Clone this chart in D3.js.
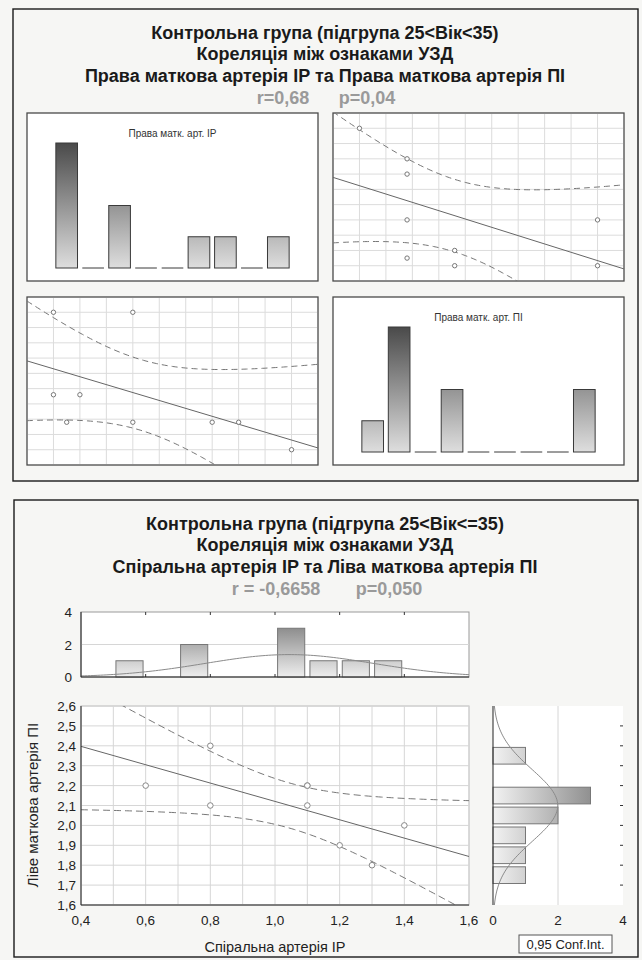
<!DOCTYPE html>
<html><head><meta charset="utf-8">
<script src="https://cdn.jsdelivr.net/npm/d3@7/dist/d3.min.js"></script>
<style>
body{margin:0;background:#f6f6f4}
text{font-family:"Liberation Sans",Arial,sans-serif}
</style>
</head><body>
<svg id="c" width="642" height="960"></svg>
<script>
// ---------- DATA ----------
// Top panel (matrix plot, values in plot grid units)
const topTitles = ["Контрольна група (підгрупа 25<Вік<35)", "Кореляція між ознаками УЗД", "Права маткова артерія IP та Права маткова артерія ПІ"];
const topStats = ["r=0,68", "p=0,04"];
const ipTop = [0, 3, 0, 1, 0.5, 3, 6, 7, 9];
const piTop = [9, 9, 3.6, 3.6, 1.8, 1.8, 1.8, 1.8, 0];
const topBinStart = [0, 1, 2, 3, 4, 5, 6, 7, 8];
const ipTopCounts = [4, 0, 2, 0, 0, 1, 1, 0, 1];
const piTopCounts = [1, 4, 0, 2, 0, 0, 0, 0, 2];
const topGrid = [0, 1, 2, 3, 4, 5, 6, 7, 8, 9];
const histTitleIP = "Права матк. арт. IP";
const histTitlePI = "Права матк. арт. ПІ";

// Bottom panel
const botTitles = ["Контрольна група (підгрупа 25<Вік<=35)", "Кореляція між ознаками УЗД", "Спіральна артерія IP та Ліва маткова артерія ПІ"];
const botStats = ["r = -0,6658", "p=0,050"];
const spiralIP = [0.6, 0.8, 0.8, 1.1, 1.1, 1.1, 1.2, 1.3, 1.4];
const leftPI   = [2.2, 2.4, 2.1, 2.2, 2.2, 2.1, 1.9, 1.8, 2.0];
const ipBinStart = [0.5, 0.7, 1.0, 1.1, 1.2, 1.3];
const ipBinCount = [1, 2, 3, 1, 1, 1];
const piBinStart = [2.3, 2.1, 2.0, 1.9, 1.8, 1.7];
const piBinCount = [1, 3, 2, 1, 1, 1];
const binWidth = 0.1;
const xTicks = [0.4, 0.6, 0.8, 1.0, 1.2, 1.4, 1.6];
const xGrid = d3.range(4, 17).map(d => d / 10);
const yTicks = d3.range(16, 27).map(d => d / 10);
const countTicks = [0, 2, 4];
const xTitle = "Спіральна артерія IP";
const yTitle = "Ліве маткова артерія ПІ";
const legendText = "0,95 Conf.Int.";
const tCrit = 2.365; // t(0.975, df=7)

// ---------- HELPERS ----------
const svg = d3.select("#c");
const defs = svg.append("defs");
const fmt = v => d3.format(".1f")(v).replace(".", ",");

function fit(xs, ys) {
  const n = xs.length, mx = d3.mean(xs), my = d3.mean(ys);
  let sxx = 0, sxy = 0, syy = 0;
  xs.forEach((x, i) => { sxx += (x - mx) ** 2; sxy += (x - mx) * (ys[i] - my); syy += (ys[i] - my) ** 2; });
  const b = sxy / sxx, a = my - b * mx;
  const s = Math.sqrt((syy - sxy * sxy / sxx) / (n - 2));
  return {
    y: x => a + b * x,
    hw: x => tCrit * s * Math.sqrt(1 / n + (x - mx) ** 2 / sxx)
  };
}
function normalCurve(vals, bw) {
  const m = d3.mean(vals), sd = d3.deviation(vals), n = vals.length;
  return x => n * bw * Math.exp(-0.5 * ((x - m) / sd) ** 2) / (sd * Math.sqrt(2 * Math.PI));
}
function grad(id, x1, y1, x2, y2, c1, c2) {
  const g = defs.append("linearGradient").attr("id", id).attr("gradientUnits", "userSpaceOnUse")
    .attr("x1", x1).attr("y1", y1).attr("x2", x2).attr("y2", y2);
  g.append("stop").attr("offset", 0).attr("stop-color", c1);
  g.append("stop").attr("offset", 1).attr("stop-color", c2);
}
let clipN = 0;
function clip(x, y, w, h) {
  const id = "cl" + (clipN++);
  defs.append("clipPath").attr("id", id).append("rect").attr("x", x).attr("y", y).attr("width", w).attr("height", h);
  return "url(#" + id + ")";
}

// ---------- PANELS ----------
svg.append("rect").attr("x", 13).attr("y", 9).attr("width", 625).attr("height", 472)
  .attr("fill", "#f6f6f4").attr("stroke", "#1a1a1a").attr("stroke-width", 1.4);
svg.append("rect").attr("x", 14).attr("y", 500).attr("width", 624).attr("height", 457)
  .attr("fill", "#f6f6f4").attr("stroke", "#1a1a1a").attr("stroke-width", 1.4);

function titles(lines, stats, y0, statX) {
  lines.forEach((t, i) => {
    svg.append("text").attr("x", 325).attr("y", y0 + i * 21.6).attr("text-anchor", "middle")
      .attr("font-size", 18).attr("font-weight", "bold").attr("fill", "#1a1a1a").text(t);
  });
  stats.forEach((t, i) => {
    svg.append("text").attr("x", statX[i]).attr("y", y0 + 3 * 21.8).attr("text-anchor", "middle")
      .attr("font-size", 18).attr("font-weight", "bold").attr("fill", "#9a9a9a").text(t);
  });
}
titles(topTitles, topStats, 38.5, [283, 367]);
titles(botTitles, botStats, 529.5, [276, 389]);

// ---------- TOP MATRIX ----------
const cells = {
  TL: {x0: 27, x1: 318, y0: 113, y1: 281},
  TR: {x0: 333, x1: 624, y0: 113, y1: 281},
  BL: {x0: 27, x1: 318, y0: 297, y1: 465},
  BR: {x0: 333, x1: 624, y0: 297, y1: 465}
};
Object.values(cells).forEach(c => {
  svg.append("rect").attr("x", c.x0).attr("y", c.y0).attr("width", c.x1 - c.x0).attr("height", c.y1 - c.y0)
    .attr("fill", "#ffffff").attr("stroke", "#4a4a4a").attr("stroke-width", 1.3);
});

function histCell(c, counts, title, gid) {
  const x = d3.scaleLinear([-1, 10], [c.x0, c.x1]);
  const y = d3.scaleLinear([0, 4], [c.y1 - 13, c.y0 + 30]);
  grad(gid, 0, y(4), 0, y(0), "#4a4a4a", "#dedede");
  const g = svg.append("g");
  g.append("text").attr("x", (c.x0 + c.x1) / 2).attr("y", c.y0 + 24).attr("text-anchor", "middle")
    .attr("font-size", 10).attr("fill", "#333").text(title);
  topBinStart.forEach((b, i) => {
    const xa = x(b) + 2.4, xb = x(b + 1) - 2.4;
    if (counts[i] > 0) {
      g.append("rect").attr("x", xa).attr("y", y(counts[i])).attr("width", xb - xa)
        .attr("height", y(0) - y(counts[i])).attr("fill", "url(#" + gid + ")")
        .attr("stroke", "#3a3a3a").attr("stroke-width", 1);
    } else {
      g.append("line").attr("x1", xa).attr("x2", xb).attr("y1", y(0)).attr("y2", y(0))
        .attr("stroke", "#3a3a3a").attr("stroke-width", 1);
    }
  });
}
histCell(cells.TL, ipTopCounts, histTitleIP, "gTL");
histCell(cells.BR, piTopCounts, histTitlePI, "gBR");

function scatterCell(c, xs, ys) {
  const x = d3.scaleLinear([-1, 10], [c.x0, c.x1]);
  const y = d3.scaleLinear([-1, 10], [c.y1, c.y0]);
  const g = svg.append("g");
  topGrid.forEach(v => {
    g.append("line").attr("x1", x(v)).attr("x2", x(v)).attr("y1", c.y0 + 1).attr("y2", c.y1 - 1)
      .attr("stroke", "#dcdcdc").attr("stroke-width", 1);
    g.append("line").attr("y1", y(v)).attr("y2", y(v)).attr("x1", c.x0 + 1).attr("x2", c.x1 - 1)
      .attr("stroke", "#dcdcdc").attr("stroke-width", 1);
  });
  const f = fit(xs, ys);
  const xsS = d3.range(-1, 10.01, 0.1);
  const cp = clip(c.x0, c.y0, c.x1 - c.x0, c.y1 - c.y0);
  const gl = g.append("g").attr("clip-path", cp);
  gl.append("path").attr("d", d3.line().x(d => x(d)).y(d => y(f.y(d)))([-1, 10]))
    .attr("fill", "none").attr("stroke", "#666").attr("stroke-width", 1);
  [1, -1].forEach(sg => {
    gl.append("path").attr("d", d3.line().x(d => x(d)).y(d => y(f.y(d) + sg * f.hw(d)))(xsS))
      .attr("fill", "none").attr("stroke", "#777").attr("stroke-width", 1).attr("stroke-dasharray", "6,4");
  });
  xs.forEach((v, i) => {
    g.append("circle").attr("cx", x(v)).attr("cy", y(ys[i])).attr("r", 2.2)
      .attr("fill", "#fff").attr("stroke", "#777").attr("stroke-width", 1);
  });
}
scatterCell(cells.TR, piTop, ipTop);
scatterCell(cells.BL, ipTop, piTop);

// ---------- BOTTOM PANEL ----------
const xS = d3.scaleLinear([0.4, 1.6], [81, 469]);
const yS = d3.scaleLinear([1.6, 2.6], [905, 706]);
const yH = d3.scaleLinear([0, 4], [677, 612]);
const xH = d3.scaleLinear([0, 4], [493, 623]);

// top histogram
{
  const g = svg.append("g");
  g.append("rect").attr("x", xS(0.4)).attr("y", yH(4)).attr("width", xS(1.6) - xS(0.4)).attr("height", yH(0) - yH(4))
    .attr("fill", "#fff").attr("stroke", "#999").attr("stroke-width", 1);
  g.append("line").attr("x1", xS(0.4)).attr("x2", xS(1.6)).attr("y1", yH(2)).attr("y2", yH(2))
    .attr("stroke", "#d6d6d6");
  grad("gTH", 0, yH(4), 0, yH(0), "#6e6e6e", "#eeeeee");
  ipBinStart.forEach((b, i) => {
    const xa = xS(b) + 2.6, xb = xS(b + binWidth) - 2.6;
    g.append("rect").attr("x", xa).attr("y", yH(ipBinCount[i])).attr("width", xb - xa)
      .attr("height", yH(0) - yH(ipBinCount[i])).attr("fill", "url(#gTH)").attr("stroke", "#777").attr("stroke-width", 1);
  });
  const nc = normalCurve(spiralIP, binWidth);
  g.append("path").attr("d", d3.line().x(d => xS(d)).y(d => yH(nc(d)))(d3.range(0.4, 1.601, 0.01)))
    .attr("fill", "none").attr("stroke", "#8a8a8a").attr("stroke-width", 1);
  xTicks.slice(1, -1).forEach(v => {
    g.append("line").attr("x1", xS(v)).attr("x2", xS(v)).attr("y1", yH(4)).attr("y2", yH(4) + 3).attr("stroke", "#333");
    g.append("line").attr("x1", xS(v)).attr("x2", xS(v)).attr("y1", yH(0)).attr("y2", yH(0) - 3).attr("stroke", "#333");
  });
  g.append("line").attr("x1", xS(0.4)).attr("x2", xS(0.4)).attr("y1", yH(4)).attr("y2", yH(0)).attr("stroke", "#222");
  g.append("line").attr("x1", xS(0.4)).attr("x2", xS(1.6)).attr("y1", yH(0)).attr("y2", yH(0)).attr("stroke", "#222");
  countTicks.forEach(v => {
    g.append("text").attr("x", 72).attr("y", yH(v) + 5).attr("text-anchor", "end")
      .attr("font-size", 13.5).attr("fill", "#222").text(v);
  });
}

// main scatter
{
  const g = svg.append("g");
  g.append("rect").attr("x", xS(0.4)).attr("y", yS(2.6)).attr("width", xS(1.6) - xS(0.4)).attr("height", yS(1.6) - yS(2.6))
    .attr("fill", "#fff").attr("stroke", "#bbb").attr("stroke-width", 1);
  xGrid.forEach(v => g.append("line").attr("x1", xS(v)).attr("x2", xS(v)).attr("y1", yS(2.6)).attr("y2", yS(1.6)).attr("stroke", "#d6d6d6"));
  yTicks.forEach(v => g.append("line").attr("y1", yS(v)).attr("y2", yS(v)).attr("x1", xS(0.4)).attr("x2", xS(1.6)).attr("stroke", "#d6d6d6"));
  const f = fit(spiralIP, leftPI);
  const cp = clip(xS(0.4), yS(2.6), xS(1.6) - xS(0.4), yS(1.6) - yS(2.6));
  const gl = g.append("g").attr("clip-path", cp);
  gl.append("path").attr("d", d3.line().x(d => xS(d)).y(d => yS(f.y(d)))([0.4, 1.6]))
    .attr("fill", "none").attr("stroke", "#666").attr("stroke-width", 1);
  const xsS = d3.range(0.4, 1.601, 0.01);
  [1, -1].forEach(sg => {
    gl.append("path").attr("d", d3.line().x(d => xS(d)).y(d => yS(f.y(d) + sg * f.hw(d)))(xsS))
      .attr("fill", "none").attr("stroke", "#777").attr("stroke-width", 1).attr("stroke-dasharray", "7,4");
  });
  spiralIP.forEach((v, i) => {
    g.append("circle").attr("cx", xS(v)).attr("cy", yS(leftPI[i])).attr("r", 2.8)
      .attr("fill", "#fff").attr("stroke", "#888").attr("stroke-width", 1);
  });
  g.append("line").attr("x1", xS(0.4)).attr("x2", xS(0.4)).attr("y1", yS(2.6)).attr("y2", yS(1.6)).attr("stroke", "#222");
  g.append("line").attr("x1", xS(0.4)).attr("x2", xS(1.6)).attr("y1", yS(1.6)).attr("y2", yS(1.6)).attr("stroke", "#222");
  yTicks.forEach(v => g.append("text").attr("x", 76).attr("y", yS(v) + 5).attr("text-anchor", "end")
    .attr("font-size", 13.5).attr("fill", "#222").text(fmt(v)));
  xTicks.forEach(v => g.append("text").attr("x", xS(v)).attr("y", 925).attr("text-anchor", "middle")
    .attr("font-size", 13.5).attr("fill", "#222").text(fmt(v)));
  g.append("text").attr("x", 275).attr("y", 952).attr("text-anchor", "middle")
    .attr("font-size", 14.5).attr("fill", "#222").text(xTitle);
  g.append("text").attr("transform", "translate(38,805) rotate(-90)").attr("text-anchor", "middle")
    .attr("font-size", 15).attr("fill", "#222").text(yTitle);
}

// right histogram
{
  const g = svg.append("g");
  g.append("rect").attr("x", xH(0)).attr("y", yS(2.6)).attr("width", xH(4) - xH(0)).attr("height", yS(1.6) - yS(2.6))
    .attr("fill", "#fff");
  g.append("line").attr("x1", xH(2)).attr("x2", xH(2)).attr("y1", yS(2.6)).attr("y2", yS(1.6)).attr("stroke", "#d6d6d6");
  grad("gRH", xH(0), 0, xH(4), 0, "#f2f2f2", "#707070");
  piBinStart.forEach((b, i) => {
    const ya = yS(b + binWidth) + 1.6, yb = yS(b) - 1.6;
    g.append("rect").attr("x", xH(0)).attr("y", ya).attr("width", xH(piBinCount[i]) - xH(0)).attr("height", yb - ya)
      .attr("fill", "url(#gRH)").attr("stroke", "#777").attr("stroke-width", 1);
  });
  const nc = normalCurve(leftPI, binWidth);
  g.append("path").attr("d", d3.line().x(d => xH(nc(d))).y(d => yS(d))(d3.range(1.6, 2.601, 0.01)))
    .attr("fill", "none").attr("stroke", "#8a8a8a").attr("stroke-width", 1);
  yTicks.slice(1, -1).forEach(v => g.append("line").attr("x1", xH(4)).attr("x2", xH(4) - 3)
    .attr("y1", yS(v)).attr("y2", yS(v)).attr("stroke", "#333"));
  g.append("line").attr("x1", xH(0)).attr("x2", xH(0)).attr("y1", yS(2.6)).attr("y2", yS(1.6)).attr("stroke", "#222");
  countTicks.forEach(v => g.append("text").attr("x", xH(v)).attr("y", 925).attr("text-anchor", "middle")
    .attr("font-size", 13.5).attr("fill", "#222").text(v));
  g.append("rect").attr("x", 519).attr("y", 935).attr("width", 93).attr("height", 18)
    .attr("fill", "#fff").attr("stroke", "#555").attr("stroke-width", 1);
  g.append("text").attr("x", 565.5).attr("y", 949).attr("text-anchor", "middle")
    .attr("font-size", 13).attr("fill", "#222").text(legendText);
}
</script>
</body></html>
